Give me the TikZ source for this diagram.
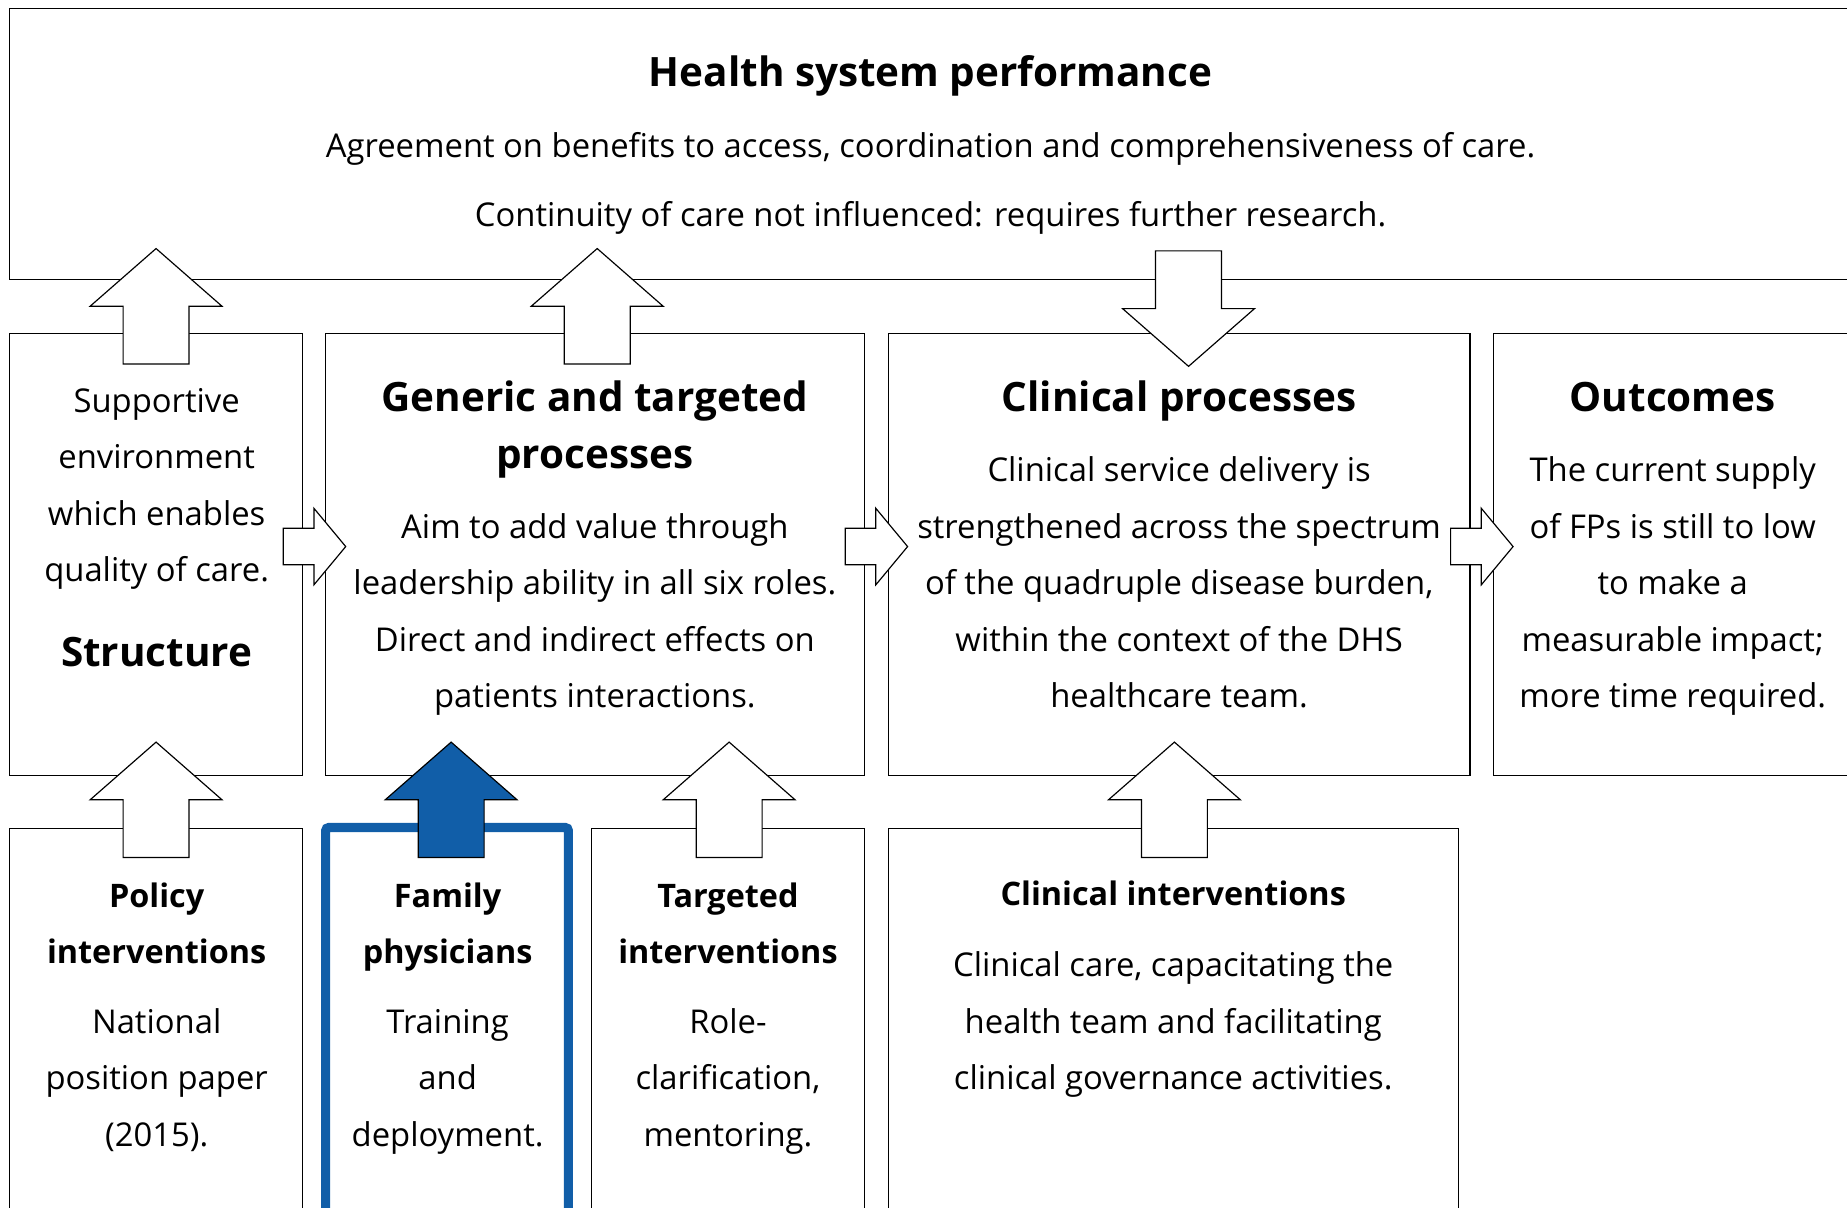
\documentclass[tikz,border=0pt]{standalone}
\usepackage{fontspec}
\setmainfont{Open Sans}
\usepackage{tikz}
\usepackage{xcolor}
\definecolor{fpblue}{RGB}{17,94,168}
\usetikzlibrary{calc, fit}
\tikzset{
  box/.style={draw, line width=0.6pt, inner sep=0pt, outer sep=0pt},
  body/.style={font=\fontsize{16.7}{19}\selectfont, anchor=base, inner sep=0pt},
  head/.style={font=\fontsize{20.6}{24}\selectfont\bfseries, anchor=base, inner sep=0pt},
  subhead/.style={font=\fontsize{16.5}{19}\selectfont\bfseries, anchor=base, inner sep=0pt},
  pics/fat/.style={code={\draw[line width=0.6pt, pic actions] (0,-28) -- (49,-28) -- (49,-56) -- (98,0) -- (49,56) -- (49,28) -- (0,28) -- cycle;}},
  pics/thin/.style={code={\draw[line width=0.6pt, pic actions] (0,-15.5) -- (26,-15.5) -- (26,-32.5) -- (53,0) -- (26,32.5) -- (26,15.5) -- (0,15.5) -- cycle;}}
}

\begin{document}
\begin{tikzpicture}[x=0.6pt, y=-0.6pt]
\useasboundingbox (0,0) rectangle (1568,1025);
\clip (0,0) rectangle (1568,1025);
\node[box, fit={(8,7) (1600,237)}] (hsp) {};
\foreach \n/\a/\b in {str/8/257, gen/276/734, clp/754/1248, out/1268/1600}
  \node[box, fit={(\a,283) (\b,658)}] (\n) {};
\foreach \n/\a/\b in {pol/8/257, tar/502/734, cli/754/1238}
  \node[box, fit={(\a,703) (\b,1100)}] (\n) {};
\node[box, draw=fpblue, line width=4.6pt, rounded corners=1.5pt, fit={(276.5,702.5) (482.5,1100)}] (fam) {};

\foreach \n/\dx in {str/0, gen/2}
  \pic[fill=white, rotate=90] at ($(\n.north)+(\dx,26)$) {fat};
\pic[fill=white, rotate=-90] at ($(clp.north)+(8,-70)$) {fat};
\foreach \n/\dx in {pol/0, tar/1, cli/1}
  \pic[fill=white, rotate=90] at ($(\n.north)+(\dx,25)$) {fat};
\pic[fill=fpblue, rotate=90] at ($(fam.north)+(3.5,25.5)$) {fat};
\foreach \n in {str, gen, clp}
  \pic[fill=white] at ($(\n.east)+(-16.5,-6.5)$) {thin};

\node[head] (hsph) at (790,73.5) {Health system performance};
\node[body] (hsp1) at (790,134) {Agreement on benefits to access, coordination and comprehensiveness of care.};
\node[body] (hsp2) at (790,192) {Continuity of care not influenced: requires further research.};

\foreach \t [count=\i from 0] in {Supportive, environment, which enables, quality of care.}
  \node[body] (str\i) at (133,350+48*\i) {\t};
\node[head] (strh) at (133,565.5) {Structure};

\foreach \t [count=\i from 0] in {Generic and targeted, processes}
  \node[head] (genh\i) at (505,349.5+48*\i) {\t};
\foreach \t [count=\i from 0] in {Aim to add value through, leadership ability in all six roles., Direct and indirect effects on, patients interactions.}
  \node[body] (gen\i) at (505,457+48*\i) {\t};

\node[head] (clph) at (1001,349.5) {Clinical processes};
\foreach \t [count=\i from 0] in {Clinical service delivery is, strengthened across the spectrum, {of the quadruple disease burden,}, within the context of the DHS, healthcare team.}
  \node[body] (clp\i) at (1001,409+48*\i) {\t};

\node[head] (outh) at (1420,349.5) {Outcomes};
\foreach \t [count=\i from 0] in {The current supply, of FPs is still to low, to make a, measurable impact;, more time required.}
  \node[body] (out\i) at (1420,409+48*\i) {\t};

\foreach \n/\c/\p/\q/\u/\v/\w in {pol/133/Policy/interventions/National/position paper/{(2015).},
    fam/380/Family/physicians/Training/and/deployment.,
    tar/618/Targeted/interventions/Role-/{clarification,}/mentoring.}{
  \node[subhead] (\n h1) at (\c,770) {\p};
  \node[subhead] (\n h2) at (\c,818) {\q};
  \node[body] (\n 1) at (\c,877) {\u};
  \node[body] (\n 2) at (\c,925) {\v};
  \node[body] (\n 3) at (\c,973) {\w};
}

\node[subhead] (clih) at (996,769) {Clinical interventions};
\foreach \t [count=\i from 0] in {{Clinical care, capacitating the}, health team and facilitating, clinical governance activities.}
  \node[body] (cli\i) at (996,829+48*\i) {\t};
\end{tikzpicture}
\end{document}
